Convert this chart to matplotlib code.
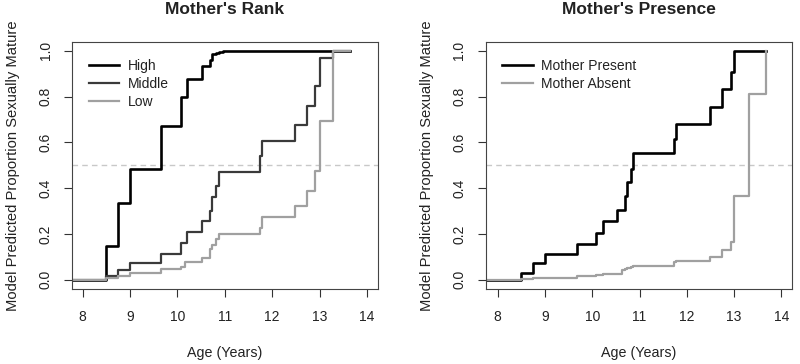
import matplotlib
matplotlib.use("Agg")
import matplotlib.pyplot as plt

# --------------------------- Data ---------------------------
# Mother's rank: model predicted step curves
rank_times = [7.70, 8.49, 8.75, 9.00, 9.65, 10.07, 10.16, 10.21, 10.51, 10.69,
              10.74, 10.81, 10.87, 10.97, 11.74, 11.79, 12.49, 12.74, 12.91,
              13.00, 13.29, 13.64]
rank_high = [0.0, 0.149, 0.336, 0.482, 0.673, 0.800, 0.800, 0.879, 0.932, 0.961,
             0.986, 0.990, 0.995, 0.998, 1.0, 1.0, 1.0, 1.0, 1.0,
             1.0, 1.0, 1.0]
rank_middle = [0.0, 0.018, 0.044, 0.073, 0.115, 0.160, 0.160, 0.207, 0.255, 0.300,
               0.360, 0.410, 0.470, 0.470, 0.540, 0.606, 0.675, 0.759, 0.847,
               0.971, 1.0, 1.0]
rank_low = [0.0, 0.007, 0.015, 0.030, 0.047, 0.058, 0.077, 0.080, 0.095, 0.134,
            0.153, 0.178, 0.200, 0.200, 0.226, 0.274, 0.321, 0.390, 0.474,
            0.693, 1.0, 1.0]

# Mother's presence
pres_times = [7.70, 8.49, 8.74, 9.00, 9.67, 10.07, 10.22, 10.52, 10.62, 10.69,
              10.73, 10.81, 10.87, 11.73, 11.78, 12.49, 12.75, 12.93, 13.00,
              13.32, 13.67]
mother_present = [0.0, 0.029, 0.073, 0.112, 0.156, 0.204, 0.255, 0.307, 0.307, 0.365,
                  0.426, 0.485, 0.552, 0.613, 0.682, 0.756, 0.835, 0.908, 0.998,
                  1.0, 1.0]
mother_absent = [0.0, 0.003, 0.006, 0.010, 0.015, 0.020, 0.024, 0.026, 0.041, 0.046,
                 0.050, 0.058, 0.062, 0.080, 0.083, 0.098, 0.131, 0.165, 0.365,
                 0.813, 1.0]

x_ticks = [8, 9, 10, 11, 12, 13, 14]
y_ticks = [0.0, 0.2, 0.4, 0.6, 0.8, 1.0]
y_labels = ["0.0", "0.2", "0.4", "0.6", "0.8", "1.0"]

# --------------------------- Style ---------------------------
plt.rcParams["font.family"] = ["Liberation Sans", "DejaVu Sans"]
plt.rcParams["font.size"] = 10
TEXT = "#222222"

fig = plt.figure(figsize=(8, 3.64), dpi=100)
ax1 = fig.add_axes([0.090, 0.206, 0.3825, 0.6794])
ax2 = fig.add_axes([0.607, 0.206, 0.3833, 0.6794])


def style_axes(ax, title, xlim):
    ax.set_xlim(*xlim)
    ax.set_ylim(-0.04, 1.04)
    ax.axhline(0.5, color="#c8c8c8", lw=1, ls=(0, (4, 3)), zorder=0)
    ax.set_xticks(x_ticks)
    ax.set_yticks(y_ticks)
    ax.set_yticklabels(y_labels, rotation=90, va="center")
    ax.tick_params(direction="out", length=5.5, width=0.8, color="#333333",
                   labelcolor=TEXT, labelsize=10)
    ax.tick_params(axis="x", pad=9.5)
    ax.tick_params(axis="y", pad=8.5)
    for s in ax.spines.values():
        s.set_color("#444444")
        s.set_linewidth(0.8)
    ax.set_title(title, fontsize=12.5, fontweight="bold", color=TEXT, pad=20)
    ax.set_xlabel("Age (Years)", color=TEXT, fontsize=10.3, labelpad=16)
    ax.set_ylabel("Model Predicted Proportion Sexually Mature", color=TEXT,
                  fontsize=10.6, labelpad=13)


# Left: mother's rank
ax1.step(rank_times, rank_high, where="post", color="#000000", lw=1.9, label="High")
ax1.step(rank_times, rank_middle, where="post", color="#3a3a3a", lw=1.6, label="Middle")
ax1.step(rank_times, rank_low, where="post", color="#a0a0a0", lw=1.6, label="Low")
style_axes(ax1, "Mother's Rank", (7.774, 14.234))
ax1.legend(loc="upper left", bbox_to_anchor=(0.055, 0.93), frameon=False,
           handlelength=2.2, handletextpad=0.6, labelspacing=0.28,
           borderpad=0, borderaxespad=0, labelcolor=TEXT)

# Right: mother's presence
ax2.step(pres_times, mother_present, where="post", color="#000000", lw=1.9,
         label="Mother Present")
ax2.step(pres_times, mother_absent, where="post", color="#a0a0a0", lw=1.6,
         label="Mother Absent")
style_axes(ax2, "Mother's Presence", (7.746, 14.229))
ax2.legend(loc="upper left", bbox_to_anchor=(0.055, 0.93), frameon=False,
           handlelength=2.2, handletextpad=0.6, labelspacing=0.28,
           borderpad=0, borderaxespad=0, labelcolor=TEXT)

fig.savefig("out.png", dpi=100)
